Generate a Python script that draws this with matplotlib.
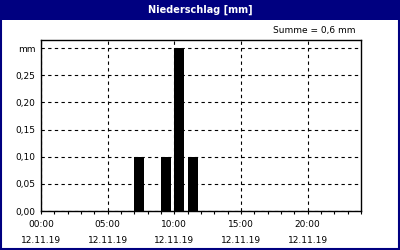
import matplotlib
matplotlib.use("Agg")
import matplotlib.pyplot as plt
from matplotlib.patches import Rectangle

# hourly precipitation (mm), bars start at the hour
hours = [7, 9, 10, 11]
rain = [0.10, 0.10, 0.30, 0.10]
x_ticks = [0, 5, 10, 15, 20]
x_labels = ["00:00\n12.11.19", "05:00\n12.11.19", "10:00\n12.11.19",
            "15:00\n12.11.19", "20:00\n12.11.19"]
y_ticks = [0.0, 0.05, 0.10, 0.15, 0.20, 0.25, 0.30]
y_labels = ["0,00", "0,05", "0,10", "0,15", "0,20", "0,25", "mm"]
title = "Niederschlag [mm]"
total = "Summe = 0,6 mm"

navy = "#000080"
fs = 6.5

fig = plt.figure(figsize=(4, 2.5), dpi=100)
fig.patch.set_facecolor("white")

# title banner + outer frame
fig.add_artist(Rectangle((0, 0.92), 1, 0.08, transform=fig.transFigure,
                         facecolor=navy, edgecolor="none"))
fig.add_artist(Rectangle((0.0025, 0.004), 0.995, 0.99, transform=fig.transFigure,
                         facecolor="none", edgecolor=navy, lw=1.5))
fig.text(0.5, 0.962, title, color="white", ha="center", va="center",
         fontsize=7, fontweight="bold")
fig.text(0.888, 0.876, total, ha="right", va="center", fontsize=fs)

ax = fig.add_axes([0.1025, 0.156, 0.8, 0.684])
ax.bar(hours, rain, width=0.75, align="edge", color="black", zorder=3)
ax.set_xlim(0, 24)
ax.set_ylim(0, 0.315)

ax.set_xticks(x_ticks)
ax.set_xticklabels(x_labels, fontsize=fs, linespacing=2.0)
ax.set_xticks(range(0, 25), minor=True)
ax.tick_params(axis="x", which="both", direction="out", length=2.5, width=0.8, pad=4)
ax.set_yticks(y_ticks)
ax.set_yticklabels(y_labels, fontsize=fs)
ax.tick_params(axis="y", length=0, pad=4)

ax.grid(True, which="major", color="black", ls=(0, (3, 3)), lw=0.8, zorder=1)
for s in ax.spines.values():
    s.set_linewidth(1.0)
    s.set_color("black")

plt.savefig("out.png", dpi=100)
